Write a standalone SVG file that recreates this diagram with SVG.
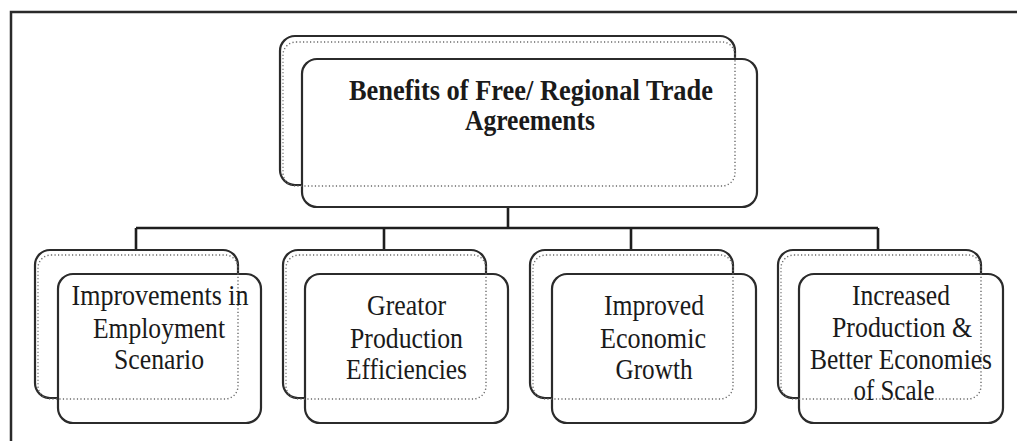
<svg xmlns="http://www.w3.org/2000/svg" width="1017" height="441" viewBox="0 0 1017 441">
<style>
.frame{fill:none;stroke:#2a2a2a;stroke-width:2.5}
.box{fill:#fff;stroke:#2b2b2b;stroke-width:2.2}
.dots{fill:none;stroke:#6a6a6a;stroke-width:1.4;stroke-dasharray:1.2 2.3}
.conn{fill:none;stroke:#1e1e1e;stroke-width:2.6}
text{font-family:"Liberation Serif","Times New Roman",serif;fill:#1a1a1a;text-anchor:middle}
.t{font-size:29px}
.h{font-size:29px;font-weight:bold}
</style>
<rect width="1017" height="441" fill="#fff"/>
<path class="frame" d="M11,441 V12 H1017"/>
<g id="connectors">
<path class="conn" d="M508,207 V228 M136,228 H878 M136,228 V250 M384,228 V250 M631,228 V250 M878,228 V250"/>
</g>
<g id="node-main">
<rect class="box" x="280" y="36" width="455" height="149" rx="15"/>
<rect class="box" x="302" y="59" width="455" height="148" rx="15"/>
<rect class="dots" x="283" y="42" width="452" height="144" rx="13"/>
<text class="h" x="531" y="100" textLength="364" lengthAdjust="spacingAndGlyphs">Benefits of Free/ Regional Trade</text>
<text class="h" x="530" y="130" textLength="130" lengthAdjust="spacingAndGlyphs">Agreements</text>
</g>
<g id="node-employment">
<rect class="box" x="35" y="250" width="203" height="148" rx="15"/>
<rect class="box" x="58" y="274" width="203" height="149" rx="15"/>
<rect class="dots" x="38" y="255" width="200" height="144" rx="13"/>
<text class="t" x="160" y="305" textLength="177" lengthAdjust="spacingAndGlyphs">Improvements in</text>
<text class="t" x="159" y="338" textLength="132" lengthAdjust="spacingAndGlyphs">Employment</text>
<text class="t" x="159" y="369" textLength="90" lengthAdjust="spacingAndGlyphs">Scenario</text>
</g>
<g id="node-efficiencies">
<rect class="box" x="283" y="250" width="203" height="148" rx="15"/>
<rect class="box" x="305" y="274" width="203" height="149" rx="15"/>
<rect class="dots" x="286" y="255" width="200" height="144" rx="13"/>
<text class="t" x="406.5" y="315" textLength="79" lengthAdjust="spacingAndGlyphs">Greator</text>
<text class="t" x="406.5" y="348" textLength="113" lengthAdjust="spacingAndGlyphs">Production</text>
<text class="t" x="406.5" y="379" textLength="121" lengthAdjust="spacingAndGlyphs">Efficiencies</text>
</g>
<g id="node-growth">
<rect class="box" x="530" y="250" width="203" height="148" rx="15"/>
<rect class="box" x="552" y="274" width="204" height="149" rx="15"/>
<rect class="dots" x="533" y="255" width="200" height="144" rx="13"/>
<text class="t" x="654" y="315" textLength="100" lengthAdjust="spacingAndGlyphs">Improved</text>
<text class="t" x="653" y="348" textLength="106" lengthAdjust="spacingAndGlyphs">Economic</text>
<text class="t" x="654" y="379" textLength="77" lengthAdjust="spacingAndGlyphs">Growth</text>
</g>
<g id="node-scale">
<rect class="box" x="778" y="250" width="203" height="148" rx="15"/>
<rect class="box" x="799" y="274" width="204" height="149" rx="15"/>
<rect class="dots" x="781" y="255" width="200" height="144" rx="13"/>
<text class="t" x="901" y="305" textLength="98" lengthAdjust="spacingAndGlyphs">Increased</text>
<text class="t" x="902" y="337" textLength="140" lengthAdjust="spacingAndGlyphs">Production &amp;</text>
<text class="t" x="901" y="369" textLength="182" lengthAdjust="spacingAndGlyphs">Better Economies</text>
<text class="t" x="894" y="400" textLength="81" lengthAdjust="spacingAndGlyphs">of Scale</text>
</g>
</svg>
